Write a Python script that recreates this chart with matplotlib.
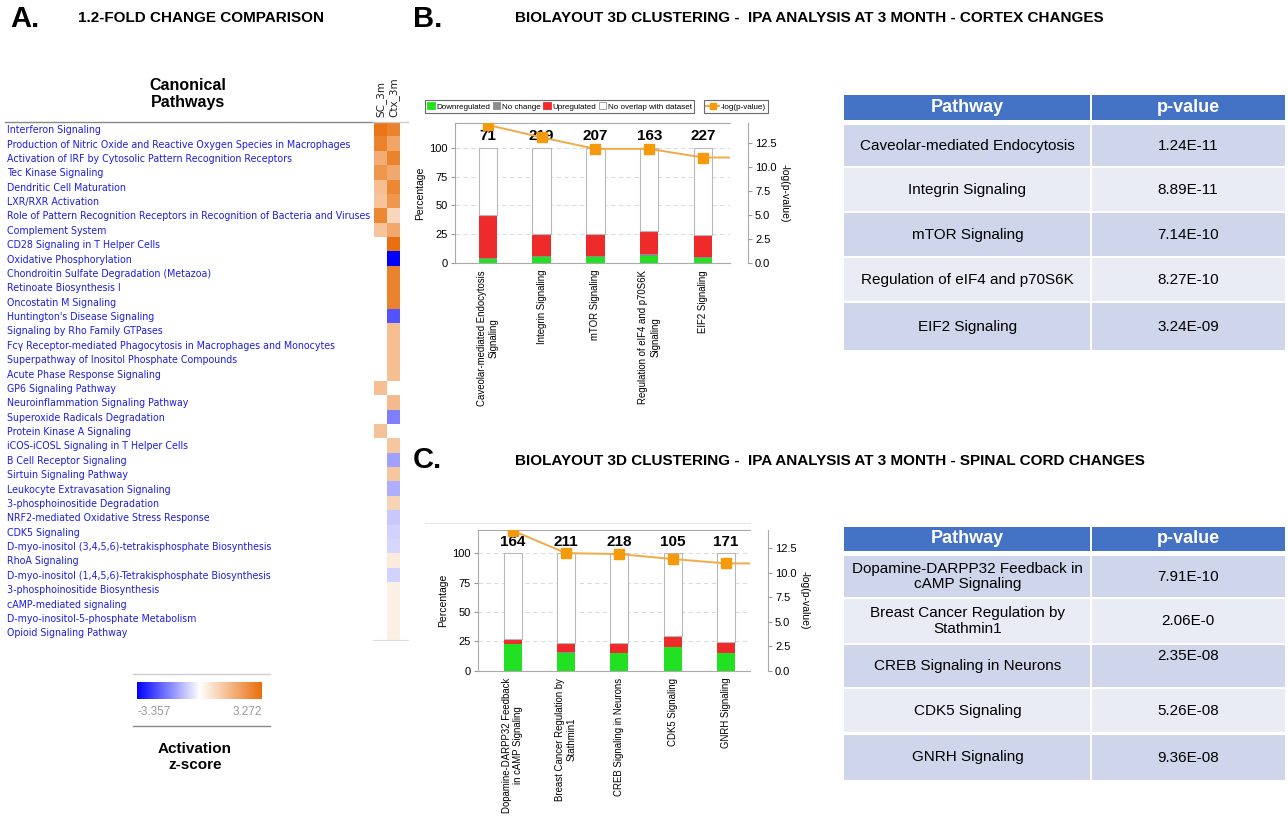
import numpy as np
import matplotlib
matplotlib.use("Agg")
import matplotlib.pyplot as plt
from matplotlib.colors import LinearSegmentedColormap, TwoSlopeNorm
from matplotlib.patches import Patch, Rectangle
from matplotlib.lines import Line2D
from matplotlib.cm import ScalarMappable

plt.rcParams['font.family'] = ['Liberation Sans', 'DejaVu Sans']

# ---------------- data ----------------
# Panel A: canonical pathways, activation z-scores (nan = not significant)
pathways = [
    "Interferon Signaling",
    "Production of Nitric Oxide and Reactive Oxygen Species in Macrophages",
    "Activation of IRF by Cytosolic Pattern Recognition Receptors",
    "Tec Kinase Signaling",
    "Dendritic Cell Maturation",
    "LXR/RXR Activation",
    "Role of Pattern Recognition Receptors in Recognition of Bacteria and Viruses",
    "Complement System",
    "CD28 Signaling in T Helper Cells",
    "Oxidative Phosphorylation",
    "Chondroitin Sulfate Degradation (Metazoa)",
    "Retinoate Biosynthesis I",
    "Oncostatin M Signaling",
    "Huntington's Disease Signaling",
    "Signaling by Rho Family GTPases",
    "Fcγ Receptor-mediated Phagocytosis in Macrophages and Monocytes",
    "Superpathway of Inositol Phosphate Compounds",
    "Acute Phase Response Signaling",
    "GP6 Signaling Pathway",
    "Neuroinflammation Signaling Pathway",
    "Superoxide Radicals Degradation",
    "Protein Kinase A Signaling",
    "iCOS-iCOSL Signaling in T Helper Cells",
    "B Cell Receptor Signaling",
    "Sirtuin Signaling Pathway",
    "Leukocyte Extravasation Signaling",
    "3-phosphoinositide Degradation",
    "NRF2-mediated Oxidative Stress Response",
    "CDK5 Signaling",
    "D-myo-inositol (3,4,5,6)-tetrakisphosphate Biosynthesis",
    "RhoA Signaling",
    "D-myo-inositol (1,4,5,6)-Tetrakisphosphate Biosynthesis",
    "3-phosphoinositide Biosynthesis",
    "cAMP-mediated signaling",
    "D-myo-inositol-5-phosphate Metabolism",
    "Opioid Signaling Pathway",
]
nan = np.nan
sc_3m = [3.1, 2.8, 1.85, 2.35, 1.45, 1.35, 2.7, 1.35, nan, nan,
         nan, nan, nan, nan, nan, nan, nan, nan, 1.45, nan,
         nan, 1.4, nan, nan, nan, nan, nan, nan, nan, nan,
         nan, nan, nan, nan, nan, nan]
ctx_3m = [2.8, 2.0, 2.8, 1.95, 2.7, 2.35, 0.9, 1.95, 3.2, -3.357,
          2.8, 2.8, 2.8, -2.25, 1.45, 1.45, 1.45, 1.45, nan, 1.55,
          -1.7, nan, 1.3, -1.25, 1.3, -1.05, 0.95, -0.72, -0.6, -0.55,
          0.45, -0.6, 0.38, 0.38, 0.38, 0.38]
z_min, z_max = -3.357, 3.272

# Panel B: cortex
ctx_paths = ["Caveolar-mediated Endocytosis\nSignaling", "Integrin Signaling",
             "mTOR Signaling", "Regulation of eIF4 and p70S6K\nSignaling",
             "EIF2 Signaling"]
ctx_down = [3.5, 5.0, 5.0, 6.5, 4.5]
ctx_nochange = [1.0, 1.0, 1.0, 1.0, 1.0]
ctx_up = [37.5, 19.5, 19.5, 20.0, 18.5]
ctx_total = [71, 219, 207, 163, 227]
ctx_logp = [14.4, 13.1, 11.9, 11.9, 11.0]

# Panel C: spinal cord
sc_paths = ["Dopamine-DARPP32 Feedback\nin cAMP Signaling",
            "Breast Cancer Regulation by\nStathmin1",
            "CREB Signaling in Neurons", "CDK5 Signaling", "GNRH Signaling"]
sc_down = [22.5, 15.5, 14.8, 20.3, 14.8]
sc_nochange = [0.3, 0.3, 0.3, 0.3, 0.3]
sc_up = [4.5, 7.8, 8.5, 9.2, 9.4]
sc_total = [164, 211, 218, 105, 171]
sc_logp = [14.3, 12.0, 11.9, 11.4, 10.95]

# tables
ctx_table_paths = ["Caveolar-mediated Endocytosis", "Integrin Signaling",
                   "mTOR Signaling", "Regulation of eIF4 and p70S6K",
                   "EIF2 Signaling"]
ctx_table_p = ["1.24E-11", "8.89E-11", "7.14E-10", "8.27E-10", "3.24E-09"]
sc_table_paths = ["Dopamine-DARPP32 Feedback in\ncAMP Signaling",
                  "Breast Cancer Regulation by\nStathmin1",
                  "CREB Signaling in Neurons", "CDK5 Signaling",
                  "GNRH Signaling"]
sc_table_p = ["7.91E-10", "2.06E-0", "2.35E-08", "5.26E-08", "9.36E-08"]

bar_labels = ["Downregulated", "No change", "Upregulated", "No overlap with dataset"]

# ---------------- layout helpers ----------------
W, H = 1288, 817
fig = plt.figure(figsize=(W / 100, H / 100), dpi=100)


def px_rect(x0, y0, x1, y1):
    return [x0 / W, 1 - y1 / H, (x1 - x0) / W, (y1 - y0) / H]


def ftext(x, y, s, **kw):
    return fig.text(x / W, 1 - y / H, s, **kw)


def fline(x0, x1, y, **kw):
    fig.add_artist(Line2D([x0 / W, x1 / W], [1 - y / H, 1 - y / H], **kw))


GREEN, GRAY, RED = '#22e022', '#8c8c8c', '#ee2a2a'
LINE_C, MARK_C = '#f2aa48', '#f59a0c'

# ---------------- titles ----------------
ftext(10, 19, "A.", fontsize=21, weight='bold', va='center')
ftext(78, 18, "1.2-FOLD CHANGE COMPARISON", fontsize=11, weight='bold', va='center')
ftext(413, 19, "B.", fontsize=21, weight='bold', va='center')
ftext(515, 18, "BIOLAYOUT 3D CLUSTERING -  IPA ANALYSIS AT 3 MONTH - CORTEX CHANGES",
      fontsize=11, weight='bold', va='center')
ftext(413, 460, "C.", fontsize=21, weight='bold', va='center')
ftext(515, 461, "BIOLAYOUT 3D CLUSTERING -  IPA ANALYSIS AT 3 MONTH - SPINAL CORD CHANGES",
      fontsize=11, weight='bold', va='center')

# ---------------- panel A heatmap ----------------
cmap = LinearSegmentedColormap.from_list('bwo', ['#0000ff', '#ffffff', '#e86e0a'])
norm = TwoSlopeNorm(vmin=z_min, vcenter=0, vmax=z_max)

ftext(188, 94, "Canonical\nPathways", fontsize=11.5, weight='bold',
      ha='center', va='center', linespacing=1.15)
fline(5, 373, 122, color='#888888', lw=1)
fline(373, 408, 122, color='#cccccc', lw=1)

axh = fig.add_axes(px_rect(374, 122, 400, 639.5))
zdata = np.ma.masked_invalid(np.array([sc_3m, ctx_3m]).T)
axh.pcolormesh(zdata, cmap=cmap, norm=norm)
axh.set_xlim(0, 2)
axh.set_ylim(len(pathways), 0)
axh.set_xticks([])
axh.set_yticks(np.arange(len(pathways)) + 0.5)
axh.set_yticklabels(pathways, ha='left', color='#1f1fe6', fontsize=6.85,
                    family='DejaVu Sans')
axh.tick_params(axis='y', length=0, pad=(374 - 7) * 0.72)
for s in axh.spines.values():
    s.set_visible(False)
for i, name in enumerate(["SC_3m", "Ctx_3m"]):
    axh.text(i + 0.5, -0.35, name, rotation=90, ha='center', va='bottom',
             fontsize=7.5, family='DejaVu Sans', color='#222222')
fline(373, 408, 640, color='#dddddd', lw=0.8)

# colour key
fline(133, 270, 674, color='#cccccc', lw=1)
cax = fig.add_axes(px_rect(137, 682, 262, 699))
cb = fig.colorbar(ScalarMappable(norm=norm, cmap=cmap), cax=cax, orientation='horizontal')
cb.set_ticks([])
cb.outline.set_visible(False)
ftext(137, 712, f"{z_min:.3f}", fontsize=8.5, color='#999999', va='center', ha='left')
ftext(262, 712, f"{z_max:.3f}", fontsize=8.5, color='#999999', va='center', ha='right')
fline(133, 270, 726, color='#888888', lw=1)
ftext(195, 757, "Activation\nz-score", fontsize=11, weight='bold', ha='center',
      va='center', linespacing=1.2)


# ---------------- panels B and C bar charts ----------------
def pathway_chart(rect, names, down, noch, up, totals, logp, xlim, ylim, rlim):
    ax = fig.add_axes(px_rect(*rect))
    x = np.arange(len(names))
    wd = 0.34
    down = np.array(down)
    noch = np.array(noch)
    up = np.array(up)
    rest = 100 - down - noch - up
    ax.bar(x, down, wd, color=GREEN, zorder=2)
    ax.bar(x, noch, wd, bottom=down, color=GRAY, zorder=2)
    ax.bar(x, up, wd, bottom=down + noch, color=RED, zorder=2)
    ax.bar(x, rest, wd, bottom=down + noch + up, facecolor='white',
           edgecolor='#b8b8b8', lw=0.8, zorder=2)
    for xi, n in zip(x, totals):
        ax.text(xi, 110, str(n), ha='center', va='center', fontsize=11,
                weight='bold', zorder=3)
    ax.set_xlim(*xlim)
    ax.set_ylim(*ylim)
    ax.set_yticks([0, 25, 50, 75, 100])
    ax.yaxis.grid(True, ls=(0, (4, 3)), color='#dcdcdc', lw=0.8)
    ax.set_axisbelow(True)
    ax.set_xticks(x)
    ax.set_xticklabels(names, rotation=90, fontsize=6.9, va='top', ha='center',
                       multialignment='center')
    ax.tick_params(axis='x', length=0, pad=5)
    ax.tick_params(axis='y', labelsize=8, length=3, color='#999999', pad=2)
    ax.set_ylabel("Percentage", fontsize=7.5, labelpad=3)
    for k in ['left', 'bottom', 'top']:
        ax.spines[k].set_color('#aaaaaa')
    ax.spines['right'].set_visible(False)

    axr = ax.twinx()
    axr.plot(list(x) + [xlim[1]], list(logp) + [logp[-1]], color=LINE_C, lw=1.4,
             zorder=4)
    axr.plot(x, logp, ls='none', marker='s', ms=7, color=MARK_C, zorder=5)
    axr.set_ylim(*rlim)
    axr.set_yticks([0, 2.5, 5, 7.5, 10, 12.5])
    axr.set_yticklabels([f"{v:.1f}" for v in [0, 2.5, 5, 7.5, 10, 12.5]])
    axr.tick_params(axis='y', labelsize=8, length=3, color='#999999', pad=2)
    axr.spines['right'].set_position(('outward', 13))
    axr.spines['right'].set_color('#aaaaaa')
    for k in ['left', 'bottom', 'top']:
        axr.spines[k].set_visible(False)
    axr.set_ylabel("-log(p-value)", fontsize=7.5, rotation=270, labelpad=9)
    return ax, axr


axb, axbr = pathway_chart((455, 123, 730, 263), ctx_paths, ctx_down, ctx_nochange,
                          ctx_up, ctx_total, ctx_logp, (-0.61, 4.5), (0, 121.7), (0, 14.6))
axc, axcr = pathway_chart((478, 530, 750, 670.7), sc_paths, sc_down, sc_nochange,
                          sc_up, sc_total, sc_logp, (-0.65, 4.45), (0, 120), (0, 14.36))
fline(425, 750, 523, color='#e6e6e6', lw=0.8)

# legends for panel B
bar_handles = [Patch(facecolor=c, edgecolor=e, lw=0.6) for c, e in
               [(GREEN, GREEN), (GRAY, GRAY), (RED, RED), ('white', '#999999')]]
leg_kw = dict(loc='lower left', fontsize=5.8, frameon=True, fancybox=False,
              handlelength=0.9, handleheight=0.9, handletextpad=0.2,
              columnspacing=0.35, borderpad=0.3, borderaxespad=0)
leg1 = fig.legend(bar_handles, bar_labels, ncol=4,
                  bbox_to_anchor=(425 / W, 1 - 113 / H), **leg_kw)
leg1.get_frame().set_edgecolor('#444444')
leg1.get_frame().set_linewidth(0.8)
leg2 = fig.legend([Line2D([], [], color=LINE_C, marker='s', ms=4, mfc=MARK_C, mec=MARK_C)],
                  ["-log(p-value)"], bbox_to_anchor=(704 / W, 1 - 113 / H),
                  **{**leg_kw, 'handlelength': 1.6})
leg2.get_frame().set_edgecolor('#444444')
leg2.get_frame().set_linewidth(0.8)


# ---------------- tables ----------------
HEAD_C, ROW_A, ROW_B = '#4472c4', '#cfd5ea', '#e9ebf5'


def pathway_table(x0, x_split, x1, head, rows, names, pvals, pval_top=()):
    ax = fig.add_axes(px_rect(0, 0, W, H))
    ax.set_xlim(0, W)
    ax.set_ylim(H, 0)
    ax.axis('off')
    gap = 1.3
    cells = [head] + rows
    for r, (t, b) in enumerate(cells):
        col = HEAD_C if r == 0 else (ROW_A if r % 2 == 1 else ROW_B)
        for cx0, cx1 in [(x0, x_split - gap), (x_split + gap, x1)]:
            ax.add_patch(Rectangle((cx0, t), cx1 - cx0, b - t, facecolor=col,
                                   edgecolor='none'))
    ym = (head[0] + head[1]) / 2
    ax.text((x0 + x_split) / 2, ym, "Pathway", color='white', weight='bold',
            fontsize=13, ha='center', va='center')
    ax.text((x_split + x1) / 2, ym, "p-value", color='white', weight='bold',
            fontsize=13, ha='center', va='center')
    for i, ((t, b), name, p) in enumerate(zip(rows, names, pvals)):
        ym = (t + b) / 2
        ax.text((x0 + x_split) / 2, ym, name, fontsize=11, ha='center',
                va='center', linespacing=1.1)
        if i in pval_top:
            ax.text((x_split + x1) / 2, t + 4, p, fontsize=11, ha='center', va='top')
        else:
            ax.text((x_split + x1) / 2, ym, p, fontsize=11, ha='center', va='center')


pathway_table(844, 1091, 1285, (95, 119.5),
              [(125, 166), (168.3, 211), (213.3, 256), (258.3, 301), (303.3, 350)],
              ctx_table_paths, ctx_table_p)
pathway_table(844, 1091, 1285, (526.7, 550.7),
              [(556, 597.3), (599.3, 642.7), (645, 686.7), (689.3, 732.3), (735, 780)],
              sc_table_paths, sc_table_p, pval_top=(2,))

fig.savefig("out.png", dpi=100, facecolor='white')
